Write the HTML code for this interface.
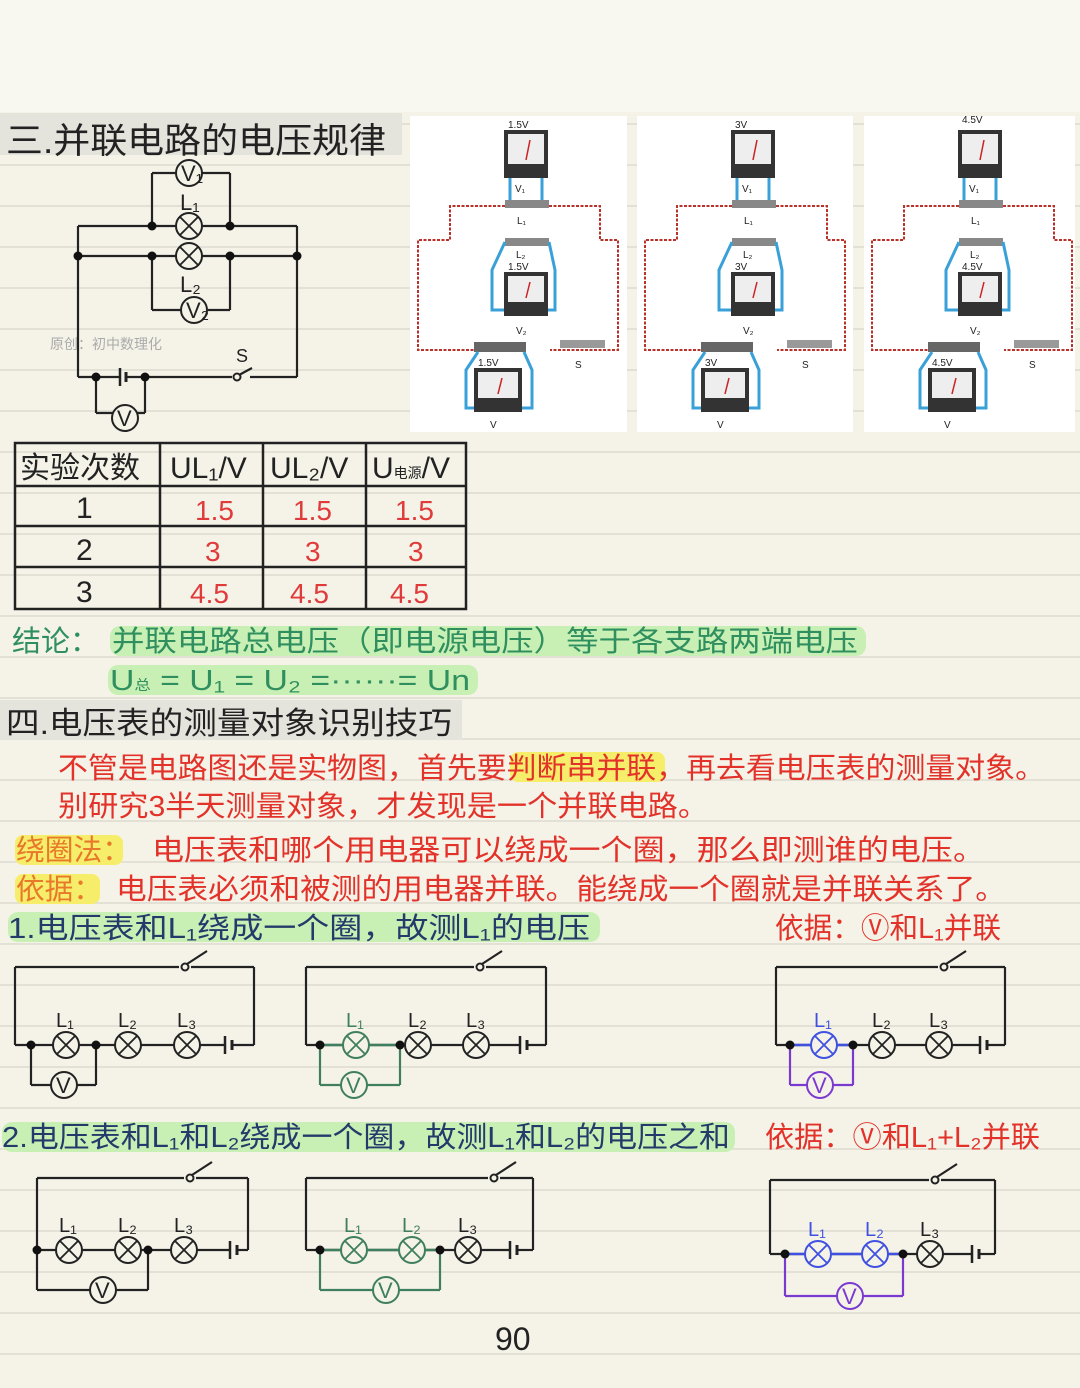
<!DOCTYPE html>
<html><head><meta charset="utf-8">
<style>
html,body{margin:0;padding:0;background:#f5f3e8;}
#c{position:relative;width:1080px;height:1388px;overflow:hidden;}
svg{position:absolute;left:0;top:0;}
text{font-family:"Liberation Sans","Noto Sans CJK SC",sans-serif;}
</style></head>
<body><div id="c">
<svg id="s" width="1080" height="1388" xmlns="http://www.w3.org/2000/svg">
<rect x="0" y="0" width="1080" height="112" fill="#f8f7f0"/>
<g id="lines"></g>
<rect x="0" y="113" width="402" height="42" fill="#e4e3dc"/>
<text x="6" y="153" font-size="35" fill="#222" textLength="380" lengthAdjust="spacingAndGlyphs">三.并联电路的电压规律</text>
<rect x="410" y="116" width="217" height="316" fill="#fff"/>
<rect x="637" y="116" width="216" height="316" fill="#fff"/>
<rect x="864" y="116" width="211" height="316" fill="#fff"/>
<g id="g"></g>
<g stroke="#222" stroke-width="2.5" fill="none">
<rect x="15" y="443" width="451" height="166"/>
<line x1="15" y1="486" x2="466" y2="486"/><line x1="15" y1="526" x2="466" y2="526"/><line x1="15" y1="567" x2="466" y2="567"/>
<line x1="160" y1="443" x2="160" y2="609"/><line x1="263" y1="443" x2="263" y2="609"/><line x1="366" y1="443" x2="366" y2="609"/>
</g>
<g font-size="30" fill="#222">
<text x="20" y="478">实验次数</text><text x="170" y="478">UL₁/V</text><text x="270" y="478">UL₂/V</text><text x="372" y="478">U<tspan font-size="14">电源</tspan>/V</text>
<text x="76" y="518">1</text><text x="76" y="560">2</text><text x="76" y="602">3</text>
</g>
<g font-size="28" fill="#e03a3a">
<text x="195" y="520">1.5</text><text x="293" y="520">1.5</text><text x="395" y="520">1.5</text>
<text x="205" y="561">3</text><text x="305" y="561">3</text><text x="408" y="561">3</text>
<text x="190" y="603">4.5</text><text x="290" y="603">4.5</text><text x="390" y="603">4.5</text>
</g>
<rect x="110" y="626" width="756" height="30" rx="10" fill="#c9f0b4"/>
<rect x="108" y="665" width="370" height="30" rx="10" fill="#c9f0b4"/>
<g fill="#2f8f5f" font-size="29">
<text x="12" y="651">结论：</text>
<text x="112" y="651" textLength="746" lengthAdjust="spacingAndGlyphs">并联电路总电压（即电源电压）等于各支路两端电压</text>
<text x="110" y="690" textLength="360" lengthAdjust="spacingAndGlyphs">U<tspan font-size="14">总</tspan> = U₁ = U₂ =······= Un</text>
</g>
<rect x="0" y="700" width="462" height="40" fill="#e4e3dc"/>
<text x="6" y="734" font-size="31" fill="#222" textLength="446" lengthAdjust="spacingAndGlyphs">四.电压表的测量对象识别技巧</text>
<rect x="510" y="752" width="155" height="30" rx="8" fill="#f6ee6a"/>
<rect x="15" y="835" width="108" height="30" rx="8" fill="#f6ee6a"/>
<rect x="15" y="874" width="85" height="30" rx="8" fill="#f6ee6a"/>
<g font-size="29" fill="#e2322a">
<text x="58" y="778" textLength="987" lengthAdjust="spacingAndGlyphs">不管是电路图还是实物图，首先要判断串并联，再去看电压表的测量对象。</text>
<text x="58" y="816" textLength="650" lengthAdjust="spacingAndGlyphs">别研究3半天测量对象，才发现是一个并联电路。</text>
<text x="16" y="860" fill="#e8782a" textLength="115" lengthAdjust="spacingAndGlyphs">绕圈法：</text>
<text x="152" y="860" textLength="833" lengthAdjust="spacingAndGlyphs">电压表和哪个用电器可以绕成一个圈，那么即测谁的电压。</text>
<text x="16" y="899" fill="#e8782a" textLength="86" lengthAdjust="spacingAndGlyphs">依据：</text>
<text x="116" y="899" textLength="890" lengthAdjust="spacingAndGlyphs">电压表必须和被测的用电器并联。能绕成一个圈就是并联关系了。</text>
<text x="775" y="938" textLength="226" lengthAdjust="spacingAndGlyphs">依据：Ⓥ和L₁并联</text>
<text x="765" y="1147" textLength="275" lengthAdjust="spacingAndGlyphs">依据：Ⓥ和L₁+L₂并联</text>
</g>
<rect x="8" y="912" width="592" height="30" rx="10" fill="#c9f0b4"/>
<rect x="2" y="1122" width="733" height="30" rx="10" fill="#c9f0b4"/>
<g font-size="29" fill="#233a6a">
<text x="8" y="938" textLength="582" lengthAdjust="spacingAndGlyphs">1.电压表和L₁绕成一个圈，故测L₁的电压</text>
<text x="2" y="1147" textLength="728" lengthAdjust="spacingAndGlyphs">2.电压表和L₁和L₂绕成一个圈，故测L₁和L₂的电压之和</text>
</g>
<text x="50" y="349" font-size="14" fill="#aaa">原创：初中数理化</text>
<text x="495" y="1350" font-size="32" fill="#222">90</text>
</svg>
</div>
<script>
var NS="http://www.w3.org/2000/svg";
var g=document.getElementById("g");
function el(t,a,p){var e=document.createElementNS(NS,t);for(var k in a)e.setAttribute(k,a[k]);(p||g).appendChild(e);return e;}
function ln(x1,y1,x2,y2,c,w){el("line",{x1:x1,y1:y1,x2:x2,y2:y2,stroke:c||"#222","stroke-width":w||2.2});}
function txt(x,y,s,c,fs){var t=el("text",{x:x,y:y,fill:c||"#222","font-size":fs||18});t.textContent=s;}
function lamp(x,y,c,r){r=r||13;el("circle",{cx:x,cy:y,r:r,fill:"#f5f3e8",stroke:c||"#222","stroke-width":2});var d=r*0.7;ln(x-d,y-d,x+d,y+d,c,1.8);ln(x-d,y+d,x+d,y-d,c,1.8);}
function vm(x,y,c,lab){el("circle",{cx:x,cy:y,r:13,fill:"#f5f3e8",stroke:c||"#222","stroke-width":2});txt(x-8,y+8,lab||"V",c,22);}
function dot(x,y){el("circle",{cx:x,cy:y,r:4.5,fill:"#111"});}
var lg=document.getElementById("lines");
for(var y=124;y<1388;y+=41)el("line",{x1:0,y1:y,x2:1080,y2:y,stroke:"#dddbd0","stroke-width":1.5},lg);
ln(152,173,230,173);ln(152,173,152,226);ln(230,173,230,226);
ln(78,226,297,226);ln(78,256,297,256);
ln(152,256,152,310);ln(230,256,230,310);ln(152,310,230,310);
ln(78,226,78,377);ln(297,226,297,377);
ln(78,377,120,377);ln(126,377,232,377);ln(250,377,297,377);
ln(120,368,120,386,"#222",2.5);ln(126,372,126,382,"#222",3);
el("circle",{cx:237,cy:377,r:3.5,fill:"none",stroke:"#222","stroke-width":2});ln(239,375,252,368);
ln(96,377,96,413);ln(145,377,145,413);ln(96,413,145,413);
vm(189,173,"#222","V₁");lamp(189,226);lamp(189,256);vm(194,310,"#222","V₂");vm(125,418);
dot(152,226);dot(230,226);dot(78,256);dot(152,256);dot(230,256);dot(297,256);dot(96,377);dot(145,377);
txt(180,210,"L₁","#222",22);txt(180,292,"L₂","#222",22);txt(236,362,"S","#222",18);
function meter(x,y,w,h){el("rect",{x:x,y:y,width:w,height:h,fill:"#333"});el("rect",{x:x+4,y:y+4,width:w-8,height:h-18,fill:"#eee"});ln(x+w/2,y+h-18,x+w/2+4,y+10,"#c22",1.5);}
function panel(ox,v,v2,vb){
 txt(ox+98,ox>860?123:128,v,"#222",10);
 meter(ox+94,130,44,48);
 el("path",{d:"M"+(ox+100)+" 178 V200 M"+(ox+132)+" 178 V200",stroke:"#3aa0d8","stroke-width":3,fill:"none"});
 txt(ox+105,192,"V₁","#222",10);
 el("rect",{x:ox+95,y:200,width:44,height:8,fill:"#888"});txt(ox+107,224,"L₁","#222",10);
 el("rect",{x:ox+95,y:238,width:44,height:8,fill:"#888"});
 el("path",{d:"M"+(ox+95)+" 206 H"+(ox+40)+" V240 H"+(ox+8)+" V350 H"+(ox+80)+" M"+(ox+139)+" 206 H"+(ox+190)+" V240 H"+(ox+208)+" V350 H"+(ox+140),stroke:"#b8322a","stroke-width":2,"stroke-dasharray":"3 1.5",fill:"none"});
 el("path",{d:"M"+(ox+95)+" 242 L"+(ox+82)+" 270 V310 H"+(ox+95)+" M"+(ox+139)+" 242 L"+(ox+145)+" 270 V310 H"+(ox+138),stroke:"#3aa0d8","stroke-width":3,fill:"none"});
 txt(ox+106,258,"L₂","#222",10);txt(ox+98,270,v2,"#222",10);
 meter(ox+94,272,44,44);txt(ox+106,334,"V₂","#222",10);
 el("rect",{x:ox+64,y:342,width:52,height:10,fill:"#666"});
 el("rect",{x:ox+150,y:340,width:45,height:8,fill:"#999"});txt(ox+165,368,"S","#222",10);
 el("path",{d:"M"+(ox+68)+" 352 L"+(ox+56)+" 370 V408 H"+(ox+68)+" M"+(ox+114)+" 352 L"+(ox+122)+" 370 V408 H"+(ox+110),stroke:"#3aa0d8","stroke-width":3,fill:"none"});
 txt(ox+68,366,vb,"#222",10);meter(ox+64,368,48,44);txt(ox+80,428,"V","#222",10);
}
panel(410,"1.5V","1.5V","1.5V");panel(637,"3V","3V","3V");panel(864,"4.5V","4.5V","4.5V");
function circ(o){
 var k="#222",yt=o.yt,yb=o.yb;
 ln(o.x0,yt,o.sw-6,yt);ln(o.sw+6,yt,o.x1,yt);
 el("circle",{cx:o.sw,cy:yt,r:3.5,fill:"none",stroke:k,"stroke-width":2});ln(o.sw+2,yt-3,o.sw+22,yt-16);
 ln(o.x0,yt,o.x0,yb);ln(o.x1,yt,o.x1,yb);
 ln(o.x0,yb,o.bat,yb);ln(o.bat+7,yb,o.x1,yb);
 ln(o.bat,yb-9,o.bat,yb+9,k,2.5);ln(o.bat+7,yb-5,o.bat+7,yb+5,k,3);
 var vc=o.vc||k;
 if(o.mid)ln(o.d[0],yb,o.d[1],yb,o.mid,2.4);
 ln(o.d[0],yb,o.d[0],o.vy,vc);ln(o.d[1],yb,o.d[1],o.vy,vc);ln(o.d[0],o.vy,o.d[1],o.vy,vc);
 for(var i=0;i<3;i++){var lc=(o.lc&&o.lc[i])||k;lamp(o.l[i],yb,lc);txt(o.l[i]-10,yb-18,"L"+"₁₂₃"[i],lc,20);}
 vm(o.vx,o.vy,vc);dot(o.d[0],yb);dot(o.d[1],yb);
}
var G="#3f7f5f",P="#7a3ad0",B="#4050e0";
circ({x0:15,x1:254,yt:967,yb:1045,sw:185,bat:225,l:[66,128,187],d:[31,96],vy:1085,vx:64});
circ({x0:306,x1:546,yt:967,yb:1045,sw:480,bat:520,l:[356,418,476],d:[320,400],vy:1085,vx:354,vc:G,mid:G,lc:[G]});
circ({x0:776,x1:1005,yt:967,yb:1045,sw:944,bat:980,l:[824,882,939],d:[790,853],vy:1085,vx:820,vc:P,mid:B,lc:[B]});
circ({x0:37,x1:248,yt:1178,yb:1250,sw:190,bat:230,l:[69,128,184],d:[37,148],vy:1290,vx:103});
circ({x0:306,x1:533,yt:1178,yb:1250,sw:494,bat:510,l:[354,412,468],d:[320,440],vy:1290,vx:386,vc:G,mid:G,lc:[G,G]});
circ({x0:770,x1:995,yt:1180,yb:1254,sw:935,bat:972,l:[818,875,930],d:[785,903],vy:1296,vx:850,vc:P,mid:B,lc:[B,B]});
</script>
</body></html>
